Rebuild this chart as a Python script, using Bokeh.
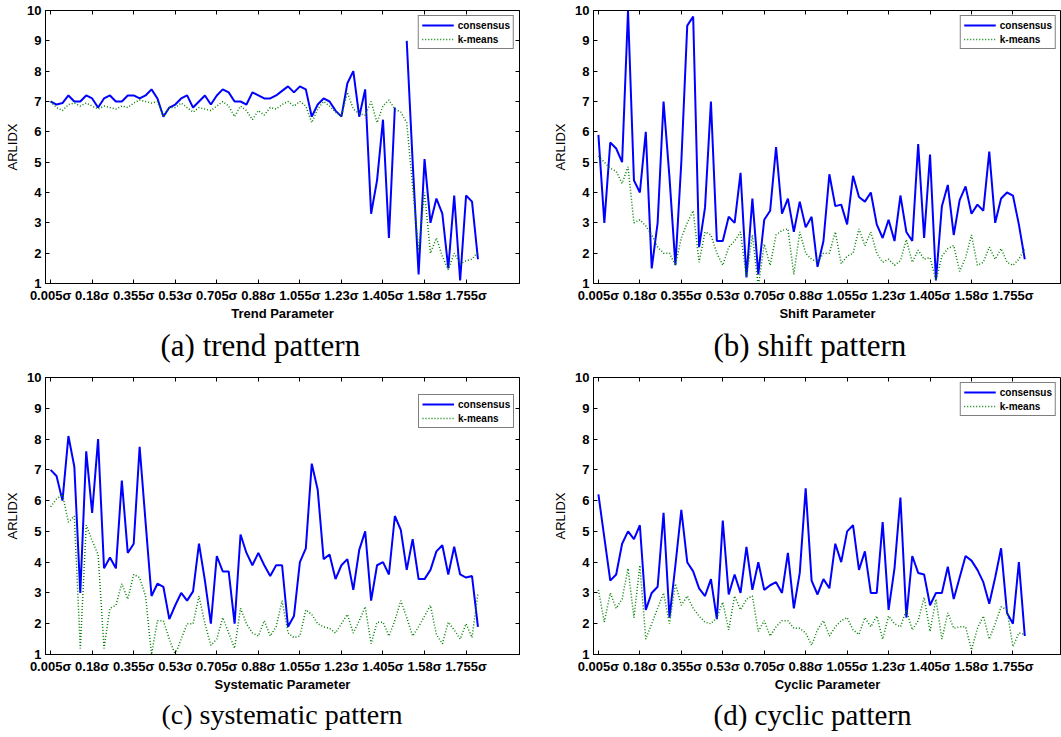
import numpy as np
from bokeh.plotting import figure
from bokeh.models import FixedTicker, LinearAxis, Legend, LegendItem, Title
from bokeh.layouts import column, row
from bokeh.embed import file_html
from bokeh.resources import INLINE

# ---- data ----
idx = list(range(1, 74))  # sample index of parameter 0.005σ ... 1.805σ (step 0.025σ)
tick_pos = [1, 8, 15, 22, 29, 36, 43, 50, 57, 64, 71]
tick_labels = ["0.005σ", "0.18σ", "0.355σ", "0.53σ", "0.705σ", "0.88σ",
               "1.055σ", "1.23σ", "1.405σ", "1.58σ", "1.755σ"]
y_ticks = [1, 2, 3, 4, 5, 6, 7, 8, 9, 10]
series_names = ["consensus", "k-means"]

trend_consensus = [
    7.0, 6.9, 6.95, 7.2, 7.0, 7.0, 7.2, 7.1, 6.8, 7.1,
    7.2, 7.0, 7.0, 7.2, 7.2, 7.1, 7.2, 7.4, 7.1, 6.5,
    6.8, 6.9, 7.1, 7.2, 6.8, 7.0, 7.2, 6.9, 7.2, 7.4,
    7.3, 7.0, 7.0, 6.9, 7.3, 7.2, 7.1, 7.1, 7.2, 7.35,
    7.5, 7.3, 7.5, 7.4, 6.5, 6.9, 7.1, 7.0, 6.7, 6.5,
    7.6, 8.0, 6.5, 7.4, 3.3, 4.4, 6.4, 2.5, 6.8, float("nan"),
    9.0, 5.0, 1.3, 5.1, 3.0, 3.8, 3.3, 1.5, 3.9, 1.1,
    3.9, 3.7, 1.8]
trend_kmeans = [
    7.0, 6.8, 6.7, 6.9, 6.95, 6.85, 6.95, 6.85, 6.75, 6.85,
    6.8, 6.75, 6.85, 6.8, 6.95, 7.05, 7.0, 6.95, 7.0, 6.5,
    6.8, 6.8, 6.95, 6.8, 6.65, 6.8, 6.75, 6.7, 6.85, 7.0,
    6.85, 6.5, 6.85, 6.7, 6.4, 6.7, 6.55, 6.8, 6.75, 6.9,
    7.0, 6.85, 7.0, 6.85, 6.3, 6.75, 7.0, 6.85, 6.65, 6.5,
    7.3, 6.75, 6.6, 6.55, 7.0, 6.3, 6.85, 7.05, 6.75, 6.65,
    6.3, 4.2, 2.1, 4.0, 2.0, 2.5, 1.9, 1.45, 2.0, 1.65,
    1.75, 1.8, 2.05]

shift_consensus = [
    5.9, 3.0, 5.65, 5.45, 5.0, 10.0, 4.4, 4.0, 6.0, 1.5,
    3.0, 7.0, 4.5, 1.6, 5.0, 9.5, 9.8, 2.2, 3.5, 7.0,
    2.4, 2.4, 3.2, 3.0, 4.65, 1.2, 3.8, 1.3, 3.1, 3.4,
    5.5, 3.3, 3.8, 2.7, 3.7, 2.85, 3.2, 1.55, 2.4, 4.6,
    3.55, 3.6, 2.95, 4.55, 3.85, 3.7, 4.0, 2.95, 2.5, 3.1,
    2.4, 3.9, 2.7, 2.4, 5.6, 2.5, 5.25, 1.1, 3.55, 4.25,
    2.6, 3.75, 4.2, 3.3, 3.6, 3.4, 5.35, 3.0, 3.8, 4.0,
    3.9, 2.95, 1.8]
shift_kmeans = [
    5.2, 5.0, 4.8, 4.7, 4.3, 4.85, 3.0, 3.1, 2.9, 2.6,
    2.2, 2.0, 2.0, 1.6, 2.5, 3.0, 3.4, 1.7, 2.7, 2.6,
    2.0, 1.6, 2.2, 2.4, 2.7, 1.2, 2.6, 0.9, 2.3, 1.6,
    2.6, 2.75, 2.8, 1.3, 2.7, 2.0, 1.8, 1.7, 2.0, 2.0,
    2.7, 1.65, 1.9, 2.0, 2.8, 2.25, 2.7, 2.0, 1.7, 1.8,
    1.6, 1.75, 2.45, 1.7, 2.1, 1.8, 1.85, 1.1, 1.9, 2.15,
    2.25, 1.4, 1.85, 2.6, 1.6, 1.7, 2.2, 1.8, 2.15, 1.7,
    1.6, 1.8, 2.15]

systematic_consensus = [
    7.0, 6.8, 6.0, 8.1, 7.1, 3.0, 7.6, 5.6, 8.0, 3.8,
    4.15, 3.8, 6.65, 4.3, 4.6, 7.75, 5.3, 2.9, 3.3, 3.2,
    2.15, 2.6, 3.0, 2.75, 3.05, 4.6, 3.4, 2.0, 4.2, 3.7,
    3.7, 2.0, 4.9, 4.3, 3.9, 4.3, 3.9, 3.55, 3.9, 3.9,
    1.9, 2.25, 4.0, 4.45, 7.2, 6.35, 4.1, 4.25, 3.45, 3.9,
    4.1, 3.1, 4.4, 5.0, 2.75, 3.9, 4.0, 3.6, 5.5, 5.05,
    3.75, 4.75, 3.45, 3.45, 3.75, 4.35, 4.55, 3.6, 4.5, 3.6,
    3.5, 3.55, 1.9]
systematic_kmeans = [
    5.8, 6.05, 6.2, 5.3, 5.5, 1.2, 5.2, 4.7, 4.25, 1.2,
    2.5, 2.6, 3.3, 2.8, 3.6, 3.5, 2.9, 1.0, 2.1, 2.1,
    1.5, 1.0, 1.5, 2.0, 2.0, 2.9, 2.0, 1.3, 1.5, 2.2,
    1.7, 1.2, 2.5, 2.0, 1.7, 1.6, 2.1, 1.6, 1.9, 2.75,
    1.7, 1.55, 1.6, 2.45, 2.3, 2.0, 1.9, 1.85, 1.7, 2.0,
    2.3, 1.7, 2.1, 2.55, 1.35, 2.05, 2.05, 1.6, 2.1, 2.75,
    2.2, 1.6, 1.9, 2.25, 2.6, 1.65, 1.35, 2.05, 1.8, 1.5,
    2.0, 1.55, 3.0]

cyclic_consensus = [
    6.2, 4.8, 3.4, 3.6, 4.6, 5.0, 4.75, 5.2, 2.45, 3.0,
    3.2, 5.6, 2.2, 3.9, 5.7, 4.0, 3.7, 3.15, 2.9, 3.45,
    2.15, 5.35, 2.95, 3.6, 3.0, 4.5, 3.1, 4.0, 3.1, 3.25,
    3.35, 3.0, 4.3, 2.5, 3.65, 6.4, 3.4, 2.95, 3.45, 3.15,
    4.6, 4.0, 5.0, 5.2, 3.75, 4.35, 3.0, 3.0, 5.3, 2.45,
    3.8, 6.1, 2.2, 4.2, 3.65, 3.6, 2.6, 3.0, 3.0, 3.85,
    2.8, 3.5, 4.2, 4.05, 3.75, 3.35, 2.65, 3.5, 4.45, 2.35,
    2.0, 4.0, 1.6]
cyclic_kmeans = [
    3.1, 2.05, 3.0, 2.5, 2.8, 3.8, 2.2, 3.9, 1.5, 2.0,
    2.5, 3.0, 2.0, 3.3, 2.6, 2.9, 2.5, 2.25, 2.05, 2.0,
    2.2, 2.7, 1.8, 2.9, 2.45, 2.8, 2.9, 1.75, 2.1, 1.6,
    1.9, 2.1, 2.1, 1.85, 1.85, 1.7, 1.3, 1.8, 2.1, 1.6,
    1.9, 2.1, 2.2, 1.8, 1.65, 2.2, 1.9, 2.25, 1.5, 2.25,
    2.0, 1.9, 2.45, 1.8, 2.1, 2.85, 1.75, 2.8, 1.5, 2.35,
    1.85, 1.9, 1.9, 1.15, 1.85, 2.25, 1.5, 2.0, 2.55, 2.45,
    1.25, 1.7, 1.65]

SANS = "Liberation Sans"
SERIF = "Liberation Serif"


def make_panel(cons, km, xlabel, caption, col, rw, cap_size, cap_off,
               legend_loc="top_right"):
    if col == 0:
        width, bl, br, xr = 530, 45, 11, (0.14, 80.0)
    else:
        width, bl, br, xr = 531, 63, 0, (0.17, 79.2)
    if rw == 0:
        height, bt, bb = 365, 10, 80
    else:
        height, bt, bb = 371, 12, 82

    p = figure(width=width, height=height, x_range=xr, y_range=(1, 10),
               output_backend="svg", toolbar_location=None,
               min_border_left=bl, min_border_right=br,
               min_border_top=bt, min_border_bottom=bb)
    p.xgrid.visible = False
    p.ygrid.visible = False
    p.outline_line_color = "black"
    p.outline_line_width = 1
    p.outline_line_alpha = 1
    p.background_fill_color = "white"
    p.border_fill_color = "white"

    for ax in (p.xaxis[0], p.yaxis[0]):
        ax.major_tick_in = 4
        ax.major_tick_out = 0
        ax.minor_tick_line_color = None
        ax.axis_line_color = "black"
        ax.major_tick_line_color = "black"
        ax.major_label_text_font = SANS
        ax.major_label_text_font_style = "bold"
        ax.major_label_text_font_size = "13px"
        ax.major_label_text_color = "black"
        ax.major_label_standoff = 4
        ax.axis_label_text_font = SANS
        ax.axis_label_text_font_size = "13px"
        ax.axis_label_text_color = "black"
        ax.axis_label_standoff = 0

    p.xaxis.ticker = FixedTicker(ticks=tick_pos)
    p.xaxis.major_label_overrides = {t: l for t, l in zip(tick_pos, tick_labels)}
    p.xaxis.axis_label = xlabel
    p.xaxis.axis_label_text_font_style = "bold"
    p.yaxis.ticker = FixedTicker(ticks=y_ticks)
    p.yaxis.axis_label = "ARLIDX"
    p.yaxis.axis_label_text_font_style = "normal"
    p.yaxis.axis_label_standoff = 4

    top = LinearAxis(ticker=FixedTicker(ticks=tick_pos), major_tick_in=4,
                     major_tick_out=0, minor_tick_line_color=None,
                     axis_line_color=None, major_label_text_font_size="1px",
                     major_label_text_color=None, major_label_standoff=0)
    p.add_layout(top, "above")
    if col == 0:
        right = LinearAxis(ticker=FixedTicker(ticks=y_ticks), major_tick_in=4,
                           major_tick_out=0, minor_tick_line_color=None,
                           axis_line_color=None, major_label_text_font_size="1px",
                           major_label_text_color=None, major_label_standoff=0)
        p.add_layout(right, "right")

    r1 = p.line(idx, np.array(cons, dtype=float), line_color="#0000ff", line_width=2)
    r2 = p.line(idx, np.array(km, dtype=float), line_color="#008000", line_width=1.5,
                line_dash="1 2")

    leg = Legend(items=[LegendItem(label=series_names[0], renderers=[r1]),
                        LegendItem(label=series_names[1], renderers=[r2])],
                 location=legend_loc,
                 border_line_color="black", border_line_width=1,
                 background_fill_color="white", background_fill_alpha=1,
                 label_text_font=SANS, label_text_font_style="bold",
                 label_text_font_size="10px", label_text_color="black",
                 glyph_width=32, glyph_height=12, label_height=12,
                 label_standoff=4, spacing=2, padding=3, margin=5)
    p.add_layout(leg)

    cap = Title(text=caption, align="left", offset=cap_off, standoff=5,
                text_font=SERIF, text_font_size=cap_size, text_font_style="normal",
                text_color="black")
    p.add_layout(cap, "below")
    return p


pa = make_panel(trend_consensus, trend_kmeans, "Trend Parameter", "(a) trend pattern",
                0, 0, "31px", 115)
pb = make_panel(shift_consensus, shift_kmeans, "Shift Parameter", "(b) shift pattern",
                1, 0, "31px", 120)
pc = make_panel(systematic_consensus, systematic_kmeans, "Systematic Parameter",
                "(c) systematic pattern", 0, 1, "28px", 116, legend_loc=(373, 226))
pd = make_panel(cyclic_consensus, cyclic_kmeans, "Cyclic Parameter", "(d) cyclic pattern",
                1, 1, "29px", 120)

layout = column(row(pa, pb), row(pc, pd))
open("out.html", "w").write(file_html(layout, INLINE))
